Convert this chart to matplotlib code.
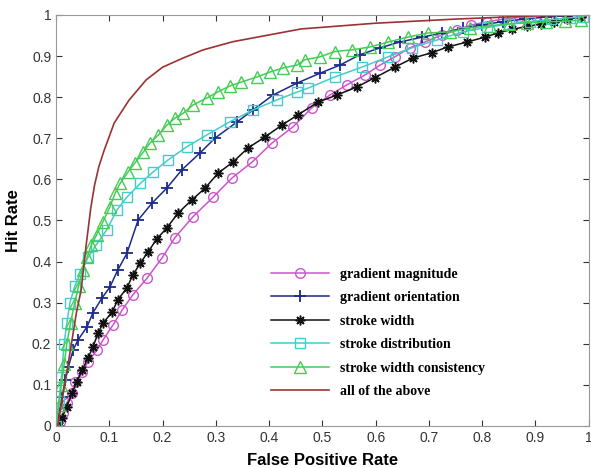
import numpy as np
import matplotlib.pyplot as plt

# ROC curves (false positive rate, hit rate)
mag_x = [0, 0.008, 0.013, 0.02, 0.03, 0.036, 0.049, 0.06, 0.077, 0.088, 0.107, 0.124, 0.144, 0.171, 0.199, 0.223,
         0.257, 0.295, 0.33, 0.368, 0.405, 0.445, 0.48, 0.514, 0.546, 0.58, 0.608, 0.636, 0.664, 0.692, 0.724,
         0.752, 0.78, 0.809, 0.839, 0.87, 0.902, 0.93, 0.96, 0.985]
mag_y = [0, 0.01, 0.032, 0.056, 0.08, 0.107, 0.131, 0.156, 0.185, 0.209, 0.246, 0.282, 0.319, 0.36, 0.409, 0.458,
         0.509, 0.557, 0.603, 0.642, 0.688, 0.728, 0.774, 0.805, 0.83, 0.854, 0.878, 0.898, 0.92, 0.934, 0.951,
         0.963, 0.976, 0.983, 0.99, 0.994, 0.997, 0.998, 0.999, 1.0]

ori_x = [0, 0.004, 0.011, 0.017, 0.023, 0.032, 0.041, 0.058, 0.069, 0.086, 0.101, 0.116, 0.133, 0.154, 0.18,
         0.208, 0.236, 0.27, 0.298, 0.34, 0.37, 0.407, 0.452, 0.495, 0.533, 0.57, 0.608, 0.645, 0.687, 0.724,
         0.764, 0.8, 0.84, 0.88, 0.92, 0.96, 0.99]
ori_y = [0, 0.022, 0.07, 0.112, 0.144, 0.185, 0.209, 0.241, 0.275, 0.311, 0.338, 0.38, 0.42, 0.501, 0.542,
         0.579, 0.623, 0.664, 0.7, 0.74, 0.769, 0.805, 0.834, 0.858, 0.878, 0.903, 0.92, 0.934, 0.946, 0.956,
         0.968, 0.976, 0.984, 0.99, 0.995, 0.998, 1.0]

sw_x = [0.005, 0.011, 0.02, 0.03, 0.039, 0.049, 0.06, 0.069, 0.079, 0.088, 0.105, 0.116, 0.133, 0.144, 0.158,
        0.173, 0.189, 0.208, 0.229, 0.255, 0.28, 0.304, 0.332, 0.36, 0.392, 0.424, 0.454, 0.492, 0.527, 0.565,
        0.598, 0.636, 0.67, 0.705, 0.735, 0.771, 0.805, 0.829, 0.856, 0.884, 0.91, 0.935, 0.96, 0.985]
sw_y = [0, 0.019, 0.046, 0.08, 0.107, 0.136, 0.165, 0.192, 0.226, 0.25, 0.277, 0.307, 0.336, 0.367, 0.396,
        0.424, 0.455, 0.482, 0.518, 0.55, 0.579, 0.615, 0.642, 0.676, 0.703, 0.732, 0.757, 0.788, 0.805, 0.825,
        0.847, 0.873, 0.895, 0.908, 0.922, 0.934, 0.946, 0.956, 0.965, 0.972, 0.978, 0.984, 0.989, 0.995]

dist_x = [0, 0.005, 0.01, 0.015, 0.02, 0.026, 0.035, 0.045, 0.06, 0.075, 0.095, 0.114, 0.133, 0.158, 0.182,
          0.21, 0.245, 0.283, 0.326, 0.37, 0.414, 0.452, 0.473, 0.523, 0.574, 0.623, 0.668, 0.715, 0.764, 0.81,
          0.85, 0.89, 0.93, 0.965, 0.99]
dist_y = [0, 0.06, 0.12, 0.2, 0.25, 0.3, 0.34, 0.37, 0.41, 0.44, 0.477, 0.525, 0.557, 0.59, 0.618,
          0.647, 0.679, 0.708, 0.74, 0.769, 0.793, 0.812, 0.822, 0.849, 0.873, 0.898, 0.92, 0.939, 0.959, 0.97,
          0.978, 0.984, 0.989, 0.993, 0.996]

cons_x = [0, 0.005, 0.01, 0.015, 0.02, 0.027, 0.035, 0.042, 0.05, 0.058, 0.066, 0.076, 0.088, 0.101, 0.111,
          0.12, 0.135, 0.148, 0.164, 0.176, 0.192, 0.208, 0.223, 0.239, 0.257, 0.283, 0.304, 0.326, 0.348, 0.377,
          0.401, 0.426, 0.452, 0.467, 0.495, 0.523, 0.555, 0.589, 0.623, 0.66, 0.698, 0.739, 0.777, 0.814, 0.85,
          0.885, 0.92, 0.955, 0.985]
cons_y = [0, 0.05, 0.1, 0.15, 0.2, 0.25, 0.3, 0.34, 0.38, 0.41, 0.44, 0.465, 0.497, 0.533, 0.567,
          0.59, 0.618, 0.64, 0.667, 0.688, 0.708, 0.732, 0.749, 0.761, 0.781, 0.798, 0.813, 0.827, 0.837, 0.849,
          0.861, 0.871, 0.878, 0.891, 0.898, 0.911, 0.915, 0.922, 0.934, 0.946, 0.956, 0.959, 0.968, 0.974, 0.978,
          0.981, 0.983, 0.985, 0.987]

all_x = [0.003, 0.02, 0.038, 0.047, 0.056, 0.065, 0.072, 0.08, 0.09, 0.109, 0.137, 0.169, 0.2, 0.238, 0.276,
         0.332, 0.46, 0.6, 0.75, 0.9, 1.0]
all_y = [0, 0.13, 0.275, 0.331, 0.436, 0.53, 0.585, 0.63, 0.67, 0.737, 0.793, 0.842, 0.873, 0.895, 0.915,
         0.935, 0.966, 0.98, 0.99, 0.998, 1.0]

ticks = [0, 0.1, 0.2, 0.3, 0.4, 0.5, 0.6, 0.7, 0.8, 0.9, 1]
tick_labels = ['0', '0.1', '0.2', '0.3', '0.4', '0.5', '0.6', '0.7', '0.8', '0.9', '1']

fig = plt.figure(figsize=(5.91, 4.68), dpi=100)
ax = fig.add_axes([0.095, 0.09, 0.901, 0.878])

ax.plot(mag_x, mag_y, '-o', color='#cc55cc', mfc='none', ms=7, lw=1.1, label='gradient magnitude')
ax.plot(ori_x, ori_y, '-+', color='#1c2a8a', ms=8, mew=1.3, lw=1.1, label='gradient orientation')
ax.plot(sw_x, sw_y, '-', marker=(8, 2, 0), color='#111111', ms=7, mew=1.1, lw=1.1, label='stroke width')
ax.plot(dist_x, dist_y, '-s', color='#44cccc', mfc='none', ms=7, lw=1.1, label='stroke distribution')
ax.plot(cons_x, cons_y, '-^', color='#44cc55', mfc='none', ms=8, lw=1.1, label='stroke width consistency')
ax.plot(all_x, all_y, '-', color='#993333', lw=1.2, label='all of the above')

ax.set_xlim(0, 1)
ax.set_ylim(0, 1)
ax.set_xticks(ticks)
ax.set_xticklabels(tick_labels)
ax.set_yticks(ticks)
ax.set_yticklabels(tick_labels)
ax.tick_params(direction='in', top=True, right=True, length=4, labelsize=10, colors='#333333')
for s in ax.spines.values():
    s.set_color('#999999')

ax.set_xlabel('False Positive Rate', fontsize=12, fontweight='bold', family='Liberation Sans', labelpad=6)
ax.set_ylabel('Hit Rate', fontsize=12, fontweight='bold', family='Liberation Sans', labelpad=8)
for lab in ax.get_xticklabels() + ax.get_yticklabels():
    lab.set_family('Liberation Sans')

ax.legend(loc='upper left', bbox_to_anchor=(0.38, 0.415), frameon=False, handlelength=4.2,
          labelspacing=0.75, prop={'family': 'Liberation Serif', 'weight': 'bold', 'size': 10})

plt.savefig('out.png', dpi=100)
